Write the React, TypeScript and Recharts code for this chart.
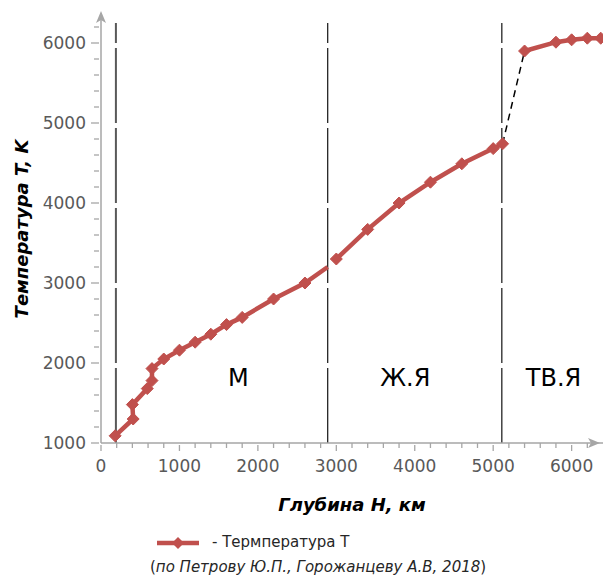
import React from 'react';
import { ComposedChart, Line, XAxis, YAxis, ReferenceLine, ReferenceDot, Legend, Label } from 'recharts';

// глубина H (км) и температура T (K) по слоям
const mantleDepth = [180, 410, 400, 590, 650, 650, 800, 1000, 1200, 1400, 1600, 1800, 2200, 2600, 2890];
const mantleTemp = [1090, 1300, 1480, 1680, 1780, 1930, 2050, 2160, 2260, 2360, 2480, 2570, 2800, 3000, 3200];

const outerDepth = [3000, 3400, 3800, 4200, 4600, 5000, 5120];
const outerTemp = [3300, 3670, 4000, 4260, 4490, 4680, 4740];

const innerDepth = [5400, 5800, 6000, 6200, 6371];
const innerTemp = [5900, 6010, 6040, 6060, 6060];

// пунктир между внешним и внутренним ядром
const jumpDepth = [5120, 5400];
const jumpTemp = [4740, 5900];

// границы слоёв
const boundaries = [190, 2890, 5110];

const xTicks = [0, 200, 400, 600, 800, 1000, 1200, 1400, 1600, 1800, 2000, 2200, 2400, 2600, 2800, 3000, 3200, 3400, 3600, 3800, 4000, 4200, 4400, 4600, 4800, 5000, 5200, 5400, 5600, 5800, 6000, 6200];
const yTicks = [1000, 1200, 1400, 1600, 1800, 2000, 2200, 2400, 2600, 2800, 3000, 3200, 3400, 3600, 3800, 4000, 4200, 4400, 4600, 4800, 5000, 5200, 5400, 5600, 5800, 6000, 6200];

const layerNames = ['М', 'Ж.Я', 'ТВ.Я'];
const layerDepth = [1750, 3880, 5770];
const layerTemp = [1810, 1810, 1810];

const zip = (h: number[], t: number[]) => h.map((v, i) => ({ h: v, t: t[i] }));
const mantle = zip(mantleDepth, mantleTemp);
const outer = zip(outerDepth, outerTemp);
const inner = zip(innerDepth, innerTemp);
const jump = zip(jumpDepth, jumpTemp);

const RED = '#C0504D';
const AXIS = '#A6A6A6';
const FONT = '"DejaVu Sans", sans-serif';

const diamond = (skipLast: boolean, count: number) => (props: any) => {
    const { cx, cy, index } = props;
    if (cx == null || cy == null || (skipLast && index === count - 1)) return <g key={index} />;
    const r = 6;
    return <path key={index} d={`M${cx},${cy - r}L${cx + r},${cy}L${cx},${cy + r}L${cx - r},${cy}Z`} fill={RED} stroke={RED} />;
};

const XTick = (props: any) => {
    const { x, y, payload } = props;
    const major = payload.value % 1000 === 0;
    return (
        <g>
            <line x1={x} x2={x} y1={major ? y : y - 2} y2={major ? y + 6 : y + 3} stroke={AXIS} strokeWidth={1.3} />
            {major && (
                <text x={x} y={y + 27} textAnchor="middle" fill="#595959" fontSize={17} fontFamily={FONT}>
                    {payload.value}
                </text>
            )}
        </g>
    );
};

const YTick = (props: any) => {
    const { x, y, payload } = props;
    const major = payload.value % 1000 === 0;
    return (
        <g>
            <line x1={major ? x - 8 : x - 5} x2={x} y1={y} y2={y} stroke={AXIS} strokeWidth={1.3} />
            {major && (
                <text x={x - 13} y={y} dy="0.36em" textAnchor="end" fill="#595959" fontSize={17} fontFamily={FONT}>
                    {payload.value}
                </text>
            )}
        </g>
    );
};

const ArrowUp = (props: any) => {
    const { cx, cy } = props;
    return <path d={`M${cx},${cy - 4}L${cx + 5},${cy + 8}L${cx},${cy + 5}L${cx - 5},${cy + 8}Z`} fill={AXIS} />;
};

const ArrowRight = (props: any) => {
    const { cx, cy } = props;
    return <path d={`M${cx - 3},${cy}L${cx - 15},${cy - 5}L${cx - 12},${cy}L${cx - 15},${cy + 5}Z`} fill={AXIS} />;
};

const LayerText = (text: string) => (props: any) => (
    <text x={props.cx} y={props.cy} textAnchor="middle" dominantBaseline="central" fontSize={24} fontFamily={FONT} fill="#000">
        {text}
    </text>
);

const LegendBox = () => (
    <div style={{ position: 'relative', height: 56, fontFamily: FONT }}>
        <svg width={44} height={14} style={{ position: 'absolute', left: 156, top: 13 }}>
            <line x1={1} x2={43} y1={7} y2={7} stroke={RED} strokeWidth={4.5} />
            <path d="M22,1L28,7L22,13L16,7Z" fill={RED} />
        </svg>
        <div style={{ position: 'absolute', left: 212, top: 10, fontSize: 15, color: '#262626', whiteSpace: 'nowrap' }}>
            - Термпература T
        </div>
        <div style={{ position: 'absolute', left: 150, top: 35, fontSize: 15, color: '#262626', whiteSpace: 'nowrap' }}>
            (<i>по Петрову Ю.П., Горожанцеву А.В, 2018</i>)
        </div>
    </div>
);

export default function App() {
    return (
        <div style={{ position: 'absolute', left: 0, top: 0, background: '#fff' }}>
            <ComposedChart width={603} height={579} margin={{ top: 15, right: 0, bottom: 0, left: 0 }}>
                <XAxis
                    dataKey="h"
                    type="number"
                    domain={[0, 6400]}
                    ticks={xTicks}
                    interval={0}
                    height={80}
                    tickSize={0}
                    tickLine={false}
                    tick={<XTick />}
                    axisLine={{ stroke: AXIS, strokeWidth: 1.5 }}
                    allowDataOverflow
                >
                    <Label
                        value="Глубина H, км"
                        position="insideBottom"
                        offset={12}
                        style={{ fontFamily: FONT, fontSize: 18, fontWeight: 'bold', fontStyle: 'italic', fill: '#000' }}
                    />
                </XAxis>
                <YAxis
                    dataKey="t"
                    type="number"
                    domain={[1000, 6350]}
                    ticks={yTicks}
                    interval={0}
                    width={101}
                    tickSize={0}
                    tickLine={false}
                    tick={<YTick />}
                    axisLine={{ stroke: AXIS, strokeWidth: 1.5 }}
                    allowDataOverflow
                >
                    <Label
                        value="Температура T, K"
                        angle={-90}
                        position="insideLeft"
                        offset={22}
                        style={{ textAnchor: 'middle', fontFamily: FONT, fontSize: 18, fontWeight: 'bold', fontStyle: 'italic', fill: '#000' }}
                    />
                </YAxis>
                {boundaries.map((b, i) => (
                    <ReferenceLine
                        key={b}
                        segment={[{ x: b, y: 1000 }, { x: b, y: 6250 }]}
                        stroke={i === 0 ? '#595959' : '#262626'}
                        strokeWidth={i === 0 ? 2 : 1.3}
                        strokeDasharray="75 5"
                    />
                ))}
                <ReferenceDot x={0} y={6350} r={0} ifOverflow="visible" shape={ArrowUp} />
                <ReferenceDot x={6400} y={1000} r={0} ifOverflow="visible" shape={ArrowRight} />
                {layerNames.map((n, i) => (
                    <ReferenceDot key={n} x={layerDepth[i]} y={layerTemp[i]} r={0} shape={LayerText(n)} />
                ))}
                <Line data={jump} dataKey="t" stroke="#000" strokeWidth={1.5} strokeDasharray="7 5" dot={false} isAnimationActive={false} legendType="none" />
                <Line data={mantle} dataKey="t" stroke={RED} strokeWidth={4.5} dot={diamond(true, mantle.length)} activeDot={false} isAnimationActive={false} />
                <Line data={outer} dataKey="t" stroke={RED} strokeWidth={4.5} dot={diamond(false, outer.length)} activeDot={false} isAnimationActive={false} />
                <Line data={inner} dataKey="t" stroke={RED} strokeWidth={4.5} dot={diamond(false, inner.length)} activeDot={false} isAnimationActive={false} />
                <Legend verticalAlign="bottom" height={56} content={<LegendBox />} />
            </ComposedChart>
        </div>
    );
}
